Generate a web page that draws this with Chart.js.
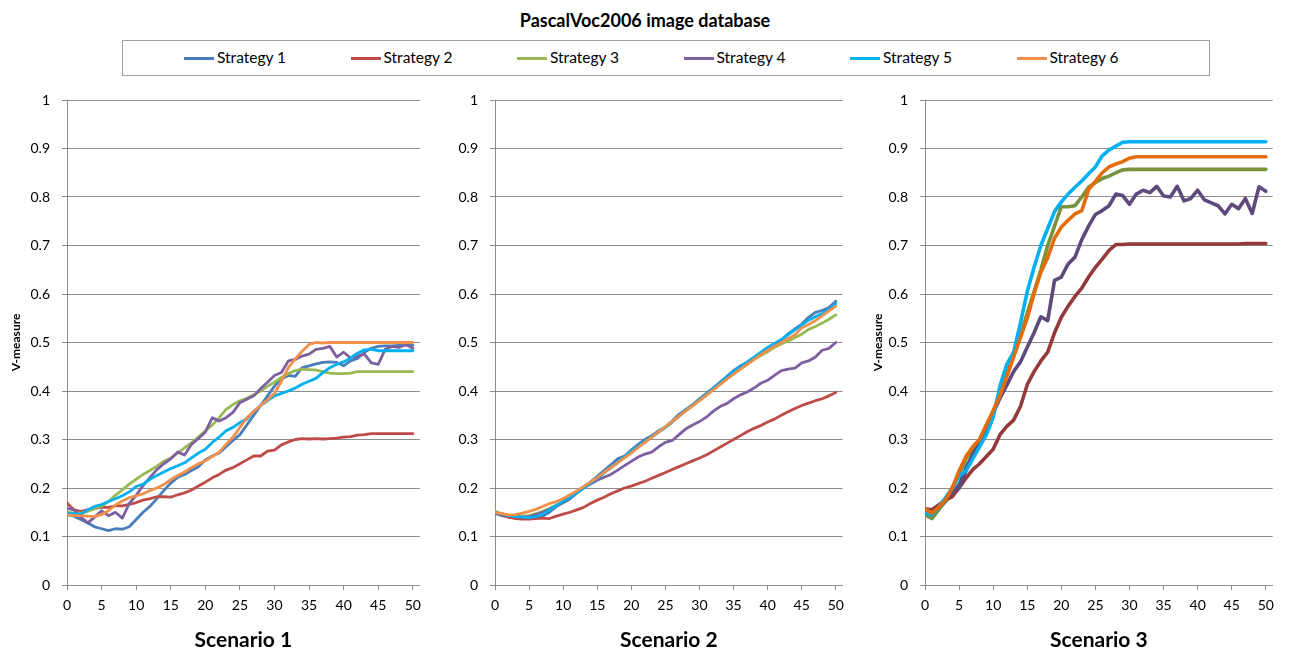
<!DOCTYPE html>
<html>
<head>
<meta charset="utf-8">
<script src="https://cdn.jsdelivr.net/npm/chart.js@4.4.1/dist/chart.umd.min.js"></script>
<style>
  html, body { margin: 0; padding: 0; background: #fff; }
  body { width: 1290px; height: 653px; position: relative; overflow: hidden; font-family: Lato, "Noto Sans", sans-serif; }
  #title { position: absolute; left: 0; top: 9px; width: 1290px; text-align: center; font-weight: bold; font-size: 18px; color: #000; }
  #legend { position: absolute; left: 122px; top: 40px; width: 1086px; height: 34px; border: 1px solid #a0a0a0; }
  .item { position: absolute; top: 7px; font-size: 15.5px; color: #000; white-space: nowrap; }
  .item i { display: inline-block; width: 30px; height: 3px; vertical-align: middle; margin-right: 3px; position: relative; top: -1px; }
  canvas { position: absolute; top: 85px; }
</style>
</head>
<body>
<div id="title">PascalVoc2006 image database</div>
<div id="legend"></div>
<canvas id="c1"></canvas>
<canvas id="c2"></canvas>
<canvas id="c3"></canvas>
<script>
// Ось X: шаги 0..50
const steps = [0, 1, 2, 3, 4, 5, 6, 7, 8, 9, 10, 11, 12, 13, 14, 15, 16, 17, 18, 19, 20, 21, 22, 23, 24, 25, 26, 27, 28, 29, 30, 31, 32, 33, 34, 35, 36, 37, 38, 39, 40, 41, 42, 43, 44, 45, 46, 47, 48, 49, 50];
const strategyNames = ['Strategy 1', 'Strategy 2', 'Strategy 3', 'Strategy 4', 'Strategy 5', 'Strategy 6'];
const scenarioNames = ['Scenario 1', 'Scenario 2', 'Scenario 3'];

// Scenario 1
const sc1Strategy1 = [0.145, 0.142, 0.135, 0.128, 0.12, 0.116, 0.112, 0.116, 0.115, 0.12, 0.135, 0.15, 0.162, 0.178, 0.195, 0.21, 0.222, 0.228, 0.236, 0.244, 0.258, 0.266, 0.272, 0.285, 0.298, 0.31, 0.33, 0.35, 0.37, 0.39, 0.41, 0.425, 0.432, 0.43, 0.448, 0.452, 0.456, 0.459, 0.46, 0.459, 0.452, 0.462, 0.467, 0.48, 0.488, 0.492, 0.493, 0.493, 0.494, 0.495, 0.494];
const sc1Strategy2 = [0.169, 0.155, 0.152, 0.155, 0.158, 0.16, 0.16, 0.163, 0.163, 0.166, 0.17, 0.175, 0.178, 0.182, 0.182, 0.181, 0.186, 0.19, 0.196, 0.204, 0.212, 0.221, 0.228, 0.237, 0.242, 0.25, 0.258, 0.266, 0.266, 0.276, 0.278, 0.289, 0.295, 0.3, 0.302, 0.301, 0.302, 0.301, 0.302, 0.303, 0.305, 0.306, 0.309, 0.31, 0.312, 0.312, 0.312, 0.312, 0.312, 0.312, 0.312];
const sc1Strategy3 = [0.15, 0.148, 0.148, 0.152, 0.157, 0.163, 0.172, 0.185, 0.196, 0.208, 0.218, 0.228, 0.236, 0.245, 0.255, 0.262, 0.272, 0.283, 0.293, 0.305, 0.318, 0.33, 0.345, 0.362, 0.372, 0.38, 0.385, 0.392, 0.4, 0.41, 0.418, 0.428, 0.436, 0.442, 0.445, 0.444, 0.443, 0.44, 0.437, 0.436, 0.436, 0.437, 0.44, 0.44, 0.44, 0.44, 0.44, 0.44, 0.44, 0.44, 0.44];
const sc1Strategy4 = [0.158, 0.155, 0.14, 0.128, 0.14, 0.153, 0.143, 0.15, 0.138, 0.168, 0.185, 0.205, 0.222, 0.238, 0.25, 0.26, 0.274, 0.268, 0.29, 0.302, 0.315, 0.345, 0.338, 0.345, 0.356, 0.376, 0.383, 0.39, 0.405, 0.418, 0.432, 0.438, 0.462, 0.465, 0.472, 0.476, 0.486, 0.488, 0.492, 0.47, 0.48, 0.468, 0.472, 0.476, 0.458, 0.455, 0.486, 0.492, 0.49, 0.496, 0.488];
const sc1Strategy5 = [0.148, 0.147, 0.146, 0.155, 0.162, 0.166, 0.172, 0.178, 0.184, 0.192, 0.203, 0.208, 0.218, 0.226, 0.233, 0.24, 0.246, 0.252, 0.262, 0.272, 0.28, 0.294, 0.305, 0.318, 0.325, 0.335, 0.342, 0.358, 0.37, 0.38, 0.39, 0.395, 0.4, 0.406, 0.414, 0.42, 0.426, 0.438, 0.448, 0.455, 0.46, 0.468, 0.478, 0.485, 0.486, 0.483, 0.483, 0.483, 0.483, 0.483, 0.483];
const sc1Strategy6 = [0.145, 0.143, 0.143, 0.142, 0.141, 0.145, 0.153, 0.165, 0.173, 0.18, 0.184, 0.188, 0.195, 0.2, 0.207, 0.217, 0.226, 0.233, 0.242, 0.25, 0.256, 0.265, 0.274, 0.29, 0.305, 0.325, 0.345, 0.358, 0.37, 0.382, 0.395, 0.42, 0.448, 0.466, 0.482, 0.496, 0.5, 0.499, 0.5, 0.5, 0.5, 0.5, 0.5, 0.5, 0.5, 0.5, 0.5, 0.5, 0.5, 0.5, 0.5];

// Scenario 2
const sc2Strategy1 = [0.148, 0.143, 0.14, 0.139, 0.138, 0.137, 0.138, 0.142, 0.15, 0.162, 0.17, 0.178, 0.19, 0.202, 0.212, 0.224, 0.236, 0.248, 0.26, 0.266, 0.278, 0.29, 0.3, 0.308, 0.318, 0.326, 0.338, 0.352, 0.362, 0.372, 0.384, 0.395, 0.406, 0.418, 0.43, 0.442, 0.452, 0.458, 0.468, 0.478, 0.486, 0.494, 0.504, 0.518, 0.528, 0.538, 0.552, 0.562, 0.566, 0.572, 0.585];
const sc2Strategy2 = [0.148, 0.145, 0.14, 0.137, 0.136, 0.136, 0.137, 0.138, 0.137, 0.142, 0.146, 0.15, 0.155, 0.16, 0.168, 0.175, 0.181, 0.188, 0.194, 0.2, 0.204, 0.209, 0.214, 0.22, 0.226, 0.232, 0.238, 0.244, 0.25, 0.256, 0.262, 0.268, 0.276, 0.284, 0.292, 0.3, 0.308, 0.316, 0.323, 0.329, 0.336, 0.342, 0.35, 0.357, 0.364, 0.37, 0.375, 0.38, 0.384, 0.39, 0.397];
const sc2Strategy3 = [0.152, 0.147, 0.144, 0.143, 0.142, 0.143, 0.147, 0.152, 0.158, 0.165, 0.172, 0.18, 0.19, 0.2, 0.21, 0.22, 0.231, 0.242, 0.253, 0.264, 0.275, 0.285, 0.295, 0.305, 0.315, 0.325, 0.336, 0.348, 0.36, 0.37, 0.381, 0.392, 0.403, 0.414, 0.425, 0.435, 0.445, 0.455, 0.465, 0.473, 0.481, 0.49, 0.497, 0.503, 0.51, 0.517, 0.527, 0.533, 0.54, 0.548, 0.557];
const sc2Strategy4 = [0.15, 0.146, 0.143, 0.141, 0.14, 0.141, 0.145, 0.15, 0.156, 0.163, 0.17, 0.178, 0.19, 0.2, 0.208, 0.216, 0.222, 0.228, 0.237, 0.246, 0.255, 0.264, 0.27, 0.274, 0.285, 0.294, 0.298, 0.31, 0.322, 0.33, 0.337, 0.346, 0.358, 0.368, 0.374, 0.384, 0.392, 0.398, 0.406, 0.416, 0.422, 0.432, 0.442, 0.445, 0.447, 0.458, 0.462, 0.47, 0.484, 0.488, 0.5];
const sc2Strategy5 = [0.15, 0.146, 0.143, 0.141, 0.14, 0.139, 0.141, 0.146, 0.155, 0.164, 0.172, 0.18, 0.19, 0.2, 0.21, 0.22, 0.231, 0.242, 0.253, 0.264, 0.275, 0.285, 0.295, 0.305, 0.315, 0.325, 0.336, 0.348, 0.36, 0.37, 0.381, 0.392, 0.404, 0.416, 0.428, 0.44, 0.45, 0.46, 0.47, 0.48, 0.49, 0.498, 0.506, 0.516, 0.526, 0.536, 0.546, 0.553, 0.56, 0.568, 0.58];
const sc2Strategy6 = [0.15, 0.147, 0.144, 0.145, 0.148, 0.152, 0.156, 0.162, 0.168, 0.172, 0.178, 0.186, 0.194, 0.203, 0.212, 0.222, 0.232, 0.242, 0.252, 0.262, 0.272, 0.283, 0.294, 0.305, 0.316, 0.326, 0.337, 0.348, 0.359, 0.37, 0.38, 0.391, 0.402, 0.413, 0.424, 0.435, 0.445, 0.455, 0.465, 0.475, 0.484, 0.492, 0.5, 0.508, 0.516, 0.53, 0.537, 0.545, 0.555, 0.565, 0.575];

// Scenario 3
const sc3Strategy1 = [0.145, 0.14, 0.155, 0.17, 0.19, 0.21, 0.245, 0.27, 0.295, 0.325, 0.355, 0.395, 0.435, 0.475, 0.515, 0.56, 0.605, 0.65, 0.7, 0.74, 0.78, 0.78, 0.782, 0.8, 0.82, 0.83, 0.838, 0.843, 0.85, 0.856, 0.857, 0.857, 0.857, 0.857, 0.857, 0.857, 0.857, 0.857, 0.857, 0.857, 0.857, 0.857, 0.857, 0.857, 0.857, 0.857, 0.857, 0.857, 0.857, 0.857, 0.857];
const sc3Strategy2 = [0.157, 0.155, 0.165, 0.175, 0.182, 0.2, 0.22, 0.238, 0.25, 0.265, 0.28, 0.31, 0.327, 0.34, 0.368, 0.413, 0.44, 0.462, 0.48, 0.52, 0.552, 0.575, 0.595, 0.612, 0.635, 0.655, 0.672, 0.69, 0.702, 0.702, 0.703, 0.703, 0.703, 0.703, 0.703, 0.703, 0.703, 0.703, 0.703, 0.703, 0.703, 0.703, 0.703, 0.703, 0.703, 0.703, 0.703, 0.704, 0.704, 0.704, 0.704];
const sc3Strategy3 = [0.145, 0.137, 0.155, 0.175, 0.2, 0.23, 0.26, 0.28, 0.3, 0.33, 0.355, 0.395, 0.435, 0.475, 0.515, 0.56, 0.605, 0.65, 0.7, 0.74, 0.78, 0.78, 0.782, 0.8, 0.82, 0.83, 0.838, 0.843, 0.85, 0.856, 0.857, 0.857, 0.857, 0.857, 0.857, 0.857, 0.857, 0.857, 0.857, 0.857, 0.857, 0.857, 0.857, 0.857, 0.857, 0.857, 0.857, 0.857, 0.857, 0.857, 0.857];
const sc3Strategy4 = [0.15, 0.148, 0.16, 0.175, 0.19, 0.2, 0.235, 0.27, 0.29, 0.32, 0.355, 0.385, 0.412, 0.44, 0.46, 0.49, 0.52, 0.553, 0.545, 0.628, 0.635, 0.662, 0.676, 0.712, 0.74, 0.764, 0.772, 0.782, 0.806, 0.803, 0.785, 0.806, 0.814, 0.809, 0.822, 0.802, 0.8, 0.822, 0.792, 0.797, 0.814, 0.794, 0.788, 0.782, 0.765, 0.785, 0.776, 0.797, 0.766, 0.821, 0.812];
const sc3Strategy5 = [0.148, 0.145, 0.16, 0.18, 0.2, 0.225, 0.235, 0.26, 0.285, 0.31, 0.345, 0.41, 0.455, 0.48, 0.54, 0.605, 0.655, 0.7, 0.735, 0.77, 0.79, 0.806, 0.82, 0.833, 0.848, 0.862, 0.885, 0.897, 0.905, 0.913, 0.914, 0.914, 0.914, 0.914, 0.914, 0.914, 0.914, 0.914, 0.914, 0.914, 0.914, 0.914, 0.914, 0.914, 0.914, 0.914, 0.914, 0.914, 0.914, 0.914, 0.914];
const sc3Strategy6 = [0.157, 0.148, 0.16, 0.175, 0.2, 0.235, 0.265, 0.285, 0.3, 0.33, 0.36, 0.39, 0.43, 0.47, 0.51, 0.55, 0.6, 0.645, 0.675, 0.715, 0.738, 0.752, 0.765, 0.772, 0.815, 0.832, 0.85, 0.862, 0.868, 0.873, 0.88, 0.883, 0.883, 0.883, 0.883, 0.883, 0.883, 0.883, 0.883, 0.883, 0.883, 0.883, 0.883, 0.883, 0.883, 0.883, 0.883, 0.883, 0.883, 0.883, 0.883];

const lightColors = ['#4A7EBB', '#BE4B48', '#98B954', '#7D60A0', '#00B0F0', '#F0904A'];
const darkColors = ['#3A6598', '#953A3A', '#77933C', '#5F4A7D', '#00B0F0', '#E46C0A'];
const FONT = 'Lato, "Noto Sans", sans-serif';
const GRID = '#8c8c8c';

// Легенда
const legendEl = document.getElementById('legend');
strategyNames.forEach((name, i) => {
  const el = document.createElement('span');
  el.className = 'item';
  el.style.left = (61 + i * 166.5) + 'px';
  el.innerHTML = '<i style="background:' + lightColors[i] + '"></i>' + name;
  legendEl.appendChild(el);
});

/**
 * Один график (сценарий)
 * widths - толщина линии для каждой серии
 */
function makePanel(id, scenario, series, colors, widths, plotLeft, plotRight, yTitlePad) {
  const canvas = document.getElementById(id);
  const AXIS_W = 67;
  const left = plotLeft - AXIS_W;
  const width = plotRight - left + 3;
  canvas.style.left = left + 'px';
  canvas.width = width;
  canvas.height = 568;
  canvas.style.width = width + 'px';
  canvas.style.height = '568px';

  // eslint-disable-next-line no-undef
  return new Chart(canvas.getContext('2d'), {
    type: 'line',
    data: {
      labels: steps,
      datasets: series.map((values, i) => ({
        label: strategyNames[i],
        data: values,
        // Последняя серия рисуется поверх остальных, как в Excel
        order: series.length - 1 - i,
        borderColor: colors[i],
        backgroundColor: colors[i],
        borderWidth: widths[i],
        pointRadius: 0,
        tension: 0,
        borderJoinStyle: 'round',
        borderCapStyle: 'round',
      })),
    },
    options: {
      responsive: false,
      animation: false,
      devicePixelRatio: 1,
      layout: { padding: { left: 0, right: 3, top: 15, bottom: 0 } },
      plugins: { legend: { display: false }, tooltip: { enabled: false } },
      scales: {
        x: {
          type: 'linear',
          min: 0,
          max: 51,
          afterFit: (scale) => { scale.height = 68; },
          grid: { drawOnChartArea: false, drawTicks: true, tickLength: 5, color: GRID },
          border: { color: GRID, width: 1 },
          ticks: {
            stepSize: 5,
            includeBounds: false,
            maxRotation: 0,
            autoSkip: false,
            padding: 7,
            color: '#000',
            font: { family: FONT, size: 14 },
          },
          title: {
            display: true,
            text: scenario,
            color: '#000',
            font: { family: FONT, size: 21, weight: 'bold' },
            padding: { top: 0, bottom: 0 },
          },
        },
        y: {
          min: 0,
          max: 1,
          afterFit: (scale) => {
            scale.width = AXIS_W;
            // Не резервировать место над/под осью из-за подписей
            scale.paddingTop = 0;
            scale.paddingBottom = 0;
          },
          grid: { color: GRID, lineWidth: 1, tickLength: 5 },
          border: { color: GRID, width: 1 },
          ticks: {
            stepSize: 0.1,
            padding: 12,
            color: '#000',
            font: { family: FONT, size: 14 },
            callback: (v) => String(Math.round(v * 10) / 10),
          },
          title: {
            display: yTitlePad !== null,
            text: 'V-measure',
            color: '#000',
            font: { family: FONT, size: 12, weight: 'bold' },
            padding: { top: yTitlePad || 0, bottom: 0 },
          },
        },
      },
    },
  });
}

makePanel('c1', scenarioNames[0],
  [sc1Strategy1, sc1Strategy2, sc1Strategy3, sc1Strategy4, sc1Strategy5, sc1Strategy6],
  lightColors, [2.8, 2.8, 2.8, 2.8, 2.8, 2.8], 67, 425, 9);
makePanel('c2', scenarioNames[1],
  [sc2Strategy1, sc2Strategy2, sc2Strategy3, sc2Strategy4, sc2Strategy5, sc2Strategy6],
  lightColors, [2.8, 2.8, 2.8, 2.8, 2.8, 2.8], 495, 848, null);
// В сценарии 3 Strategy 1 скрыта под Strategy 3
makePanel('c3', scenarioNames[2],
  [sc3Strategy1, sc3Strategy2, sc3Strategy3, sc3Strategy4, sc3Strategy5, sc3Strategy6],
  darkColors, [2.4, 3.6, 3.6, 3.6, 3.6, 3.6], 925, 1278, 13);
</script>
</body>
</html>
